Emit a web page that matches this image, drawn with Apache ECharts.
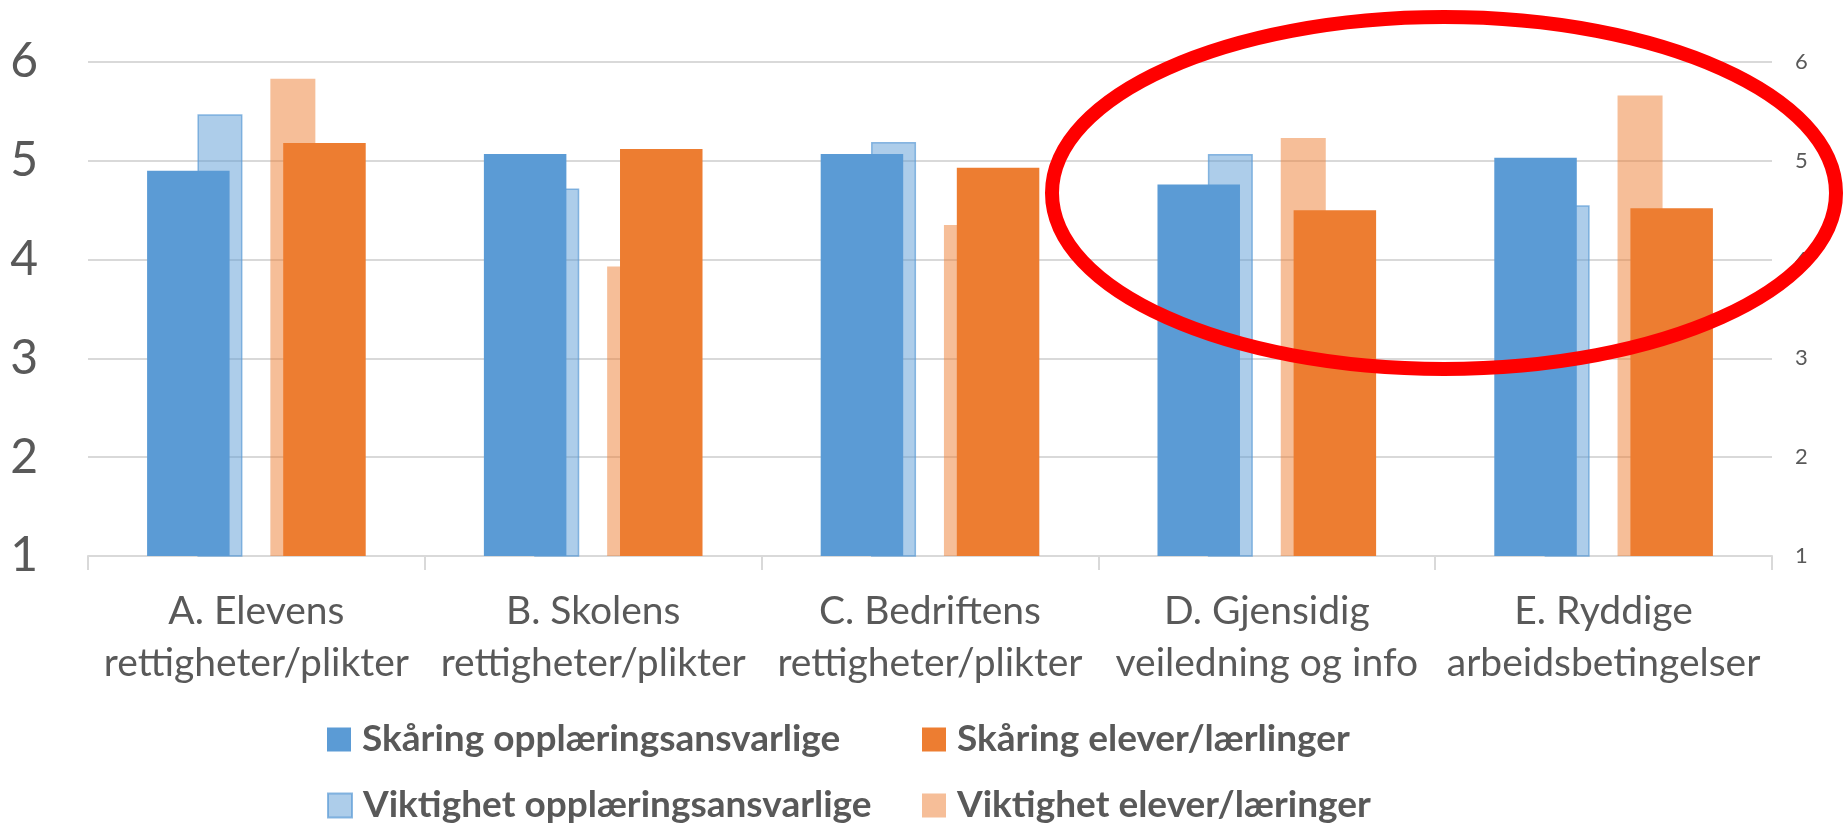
<!DOCTYPE html>
<html>
<head>
<meta charset="utf-8">
<script src="https://cdn.jsdelivr.net/npm/echarts@6/dist/echarts.min.js"></script>
<style>
  html, body { margin: 0; padding: 0; background: #fff; }
  #main { width: 1844px; height: 826px; }
</style>
</head>
<body>
<div id="main"></div>
<script>
// kategorier
var categories = [
    'A. Elevens\nrettigheter/plikter',
    'B. Skolens\nrettigheter/plikter',
    'C. Bedriftens\nrettigheter/plikter',
    'D. Gjensidig\nveiledning og info',
    'E. Ryddige\narbeidsbetingelser'
];

// verdier lest av bildet
var skaringOpp = [4.90, 5.07, 5.07, 4.76, 5.03];
var skaringElev = [5.18, 5.12, 4.93, 4.50, 4.52];
var viktighetOpp = [5.47, 4.72, 5.19, 5.07, 4.55];
var viktighetElev = [5.83, 3.93, 4.35, 5.23, 5.66];

var names = [
    'Skåring opplæringsansvarlige',
    'Skåring elever/lærlinger',
    'Viktighet opplæringsansvarlige',
    'Viktighet elever/læringer'
];

var yMin = 1, yMax = 6, yStep = 1;

var txt = '#595959';
var gridCol = '#D9D9D9';
var font = 'Lato';

var chart = echarts.init(document.getElementById('main'));

function legendItem(name, left, top) {
    return {
        data: [name],
        left: left,
        top: top,
        padding: 0,
        icon: 'rect',
        itemWidth: 24,
        itemHeight: 24,
        selectedMode: false,
        textStyle: {
            fontFamily: font,
            fontWeight: 'bold',
            fontSize: 37,
            color: txt,
            padding: [0, 0, 0, 6]
        }
    };
}

var option = {
    backgroundColor: '#fff',
    animation: false,
    grid: {
        left: 88,
        right: 72,
        top: 62,
        bottom: 270
    },
    legend: [
        legendItem(names[0], 327, 721),
        legendItem(names[1], 922, 721),
        legendItem(names[2], 327, 787),
        legendItem(names[3], 922, 787)
    ],
    xAxis: [{
        type: 'category',
        data: categories,
        axisLine: { lineStyle: { color: gridCol, width: 2 } },
        axisTick: { show: true, length: 14, lineStyle: { color: gridCol, width: 2 } },
        axisLabel: {
            fontFamily: font,
            fontSize: 39,
            lineHeight: 52,
            color: txt,
            margin: 29,
            interval: 0
        }
    }, {
        type: 'category',
        data: categories,
        show: false
    }],
    yAxis: [{
        type: 'value',
        min: yMin,
        max: yMax,
        interval: yStep,
        axisLine: { show: false },
        axisTick: { show: false },
        splitLine: { lineStyle: { color: gridCol, width: 2 } },
        axisLabel: { fontFamily: font, fontSize: 48, color: txt, margin: 50 }
    }, {
        type: 'value',
        position: 'right',
        min: yMin,
        max: yMax,
        interval: yStep,
        axisLine: { show: false },
        axisTick: { show: false },
        splitLine: { show: false },
        axisLabel: { fontFamily: font, fontSize: 22, color: txt, margin: 23 }
    }],
    series: [{
        name: names[2],
        type: 'bar',
        xAxisIndex: 1,
        yAxisIndex: 1,
        data: viktighetOpp,
        barWidth: 45,
        barGap: '62%',
        z: 1,
        itemStyle: {
            color: 'rgba(91,155,213,0.5)',
            borderColor: 'rgba(91,155,213,0.7)',
            borderWidth: 1.5
        }
    }, {
        name: names[3],
        type: 'bar',
        xAxisIndex: 1,
        yAxisIndex: 1,
        data: viktighetElev,
        barWidth: 45,
        barGap: '62%',
        z: 1,
        itemStyle: { color: 'rgba(237,125,49,0.5)' }
    }, {
        name: names[0],
        type: 'bar',
        data: skaringOpp,
        barWidth: 82.5,
        barGap: '65%',
        z: 2,
        itemStyle: { color: '#5B9BD5' }
    }, {
        name: names[1],
        type: 'bar',
        data: skaringElev,
        barWidth: 82.5,
        barGap: '65%',
        z: 2,
        itemStyle: { color: '#ED7D31' }
    }],
    graphic: [{
        type: 'ellipse',
        z: 100,
        shape: { cx: 1444, cy: 193, rx: 392, ry: 176 },
        style: { fill: 'none', stroke: '#FF0000', lineWidth: 14 }
    }]
};

chart.setOption(option);
</script>
</body>
</html>
